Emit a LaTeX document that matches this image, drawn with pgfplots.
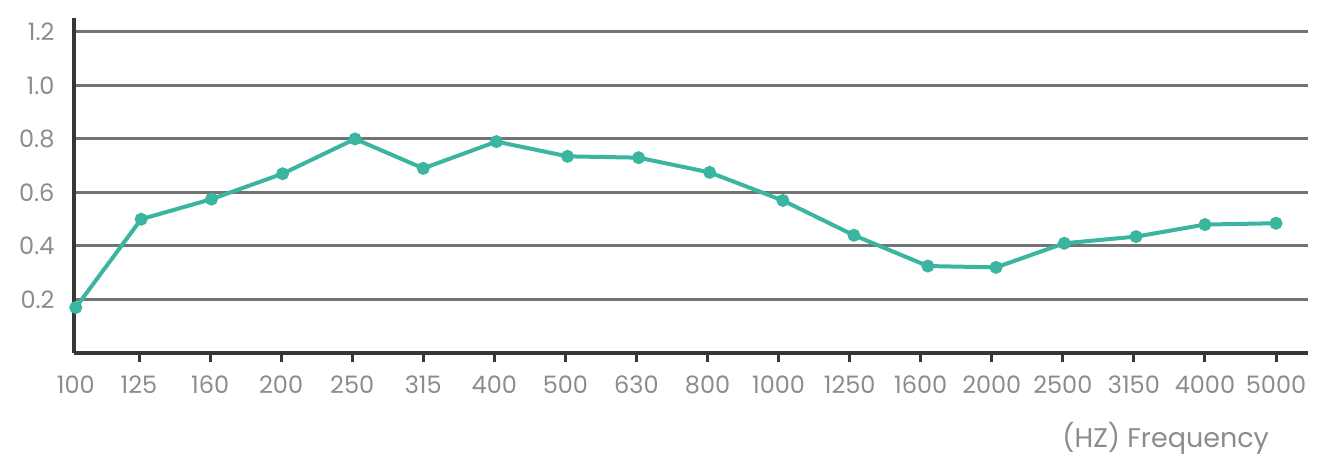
\documentclass[border=0pt]{standalone}
\usepackage{fontspec}
\setmainfont{Poppins}
\usepackage{pgfplots}
\pgfplotsset{compat=1.18}
\definecolor{teal1}{RGB}{58,181,160}
\definecolor{gridg}{RGB}{115,115,115}
\definecolor{axd}{RGB}{55,55,55}
\definecolor{lab}{RGB}{140,140,140}
\begin{document}
\begin{tikzpicture}
\begin{axis}[
  scale only axis,
  width=617pt, height=167.5pt,
  xmin=0.085, xmax=17.45,
  ymin=0, ymax=1.252,
  axis x line=bottom, axis y line=left,
  axis line style={-, line width=1.7pt, color=axd},
  xtick={1,...,17},
  xticklabels={},
  extra x ticks={0.11,1,2,...,17},
  extra x tick labels={100,125,160,200,250,315,400,500,630,800,1000,1250,1600,2000,2500,3150,4000,5000},
  extra x tick style={major tick length=0pt},
  x tick style={line width=1.5pt, color=axd},
  major tick length=4.5pt,
  xtick align=outside,
  ytick={0.2,0.4,...,1.21},
  y tick style={draw=none},
  yticklabels={0.2,0.4,0.6,0.8,1.0,1.2},
  ymajorgrids,
  major grid style={line width=1.5pt, color=gridg},
  tick label style={font=\fontsize{12}{14}\selectfont, text=lab},
  /pgf/number format/assume math mode=true,
  xticklabel style={yshift=-8pt},
  yticklabel style={xshift=-4pt},
  clip=false,
]
\addplot[color=teal1, line width=2pt, mark=*, mark size=2.2pt, mark options={fill=teal1, draw=teal1}] coordinates {
(0.11,0.17) (1.03,0.50) (2.02,0.575) (3.02,0.67) (4.04,0.80) (5.0,0.69) (6.03,0.79) (7.03,0.735) (8.03,0.73) (9.03,0.675) (10.06,0.57) (11.06,0.44) (12.1,0.325) (13.06,0.32) (14.02,0.41) (15.03,0.435) (16.0,0.48) (17.0,0.485)
};
\node[anchor=east, font=\fontsize{13.5}{15}\selectfont, text=lab] at (axis cs:17.0,-0.32) {(HZ) Frequency};
\end{axis}
\pgfresetboundingbox
\path (current axis.south west) ++(-37pt,-54pt) coordinate (bl);
\path (current axis.north east) ++(16pt,9pt) coordinate (tr);
\path (bl) rectangle (tr);
\end{tikzpicture}
\end{document}
